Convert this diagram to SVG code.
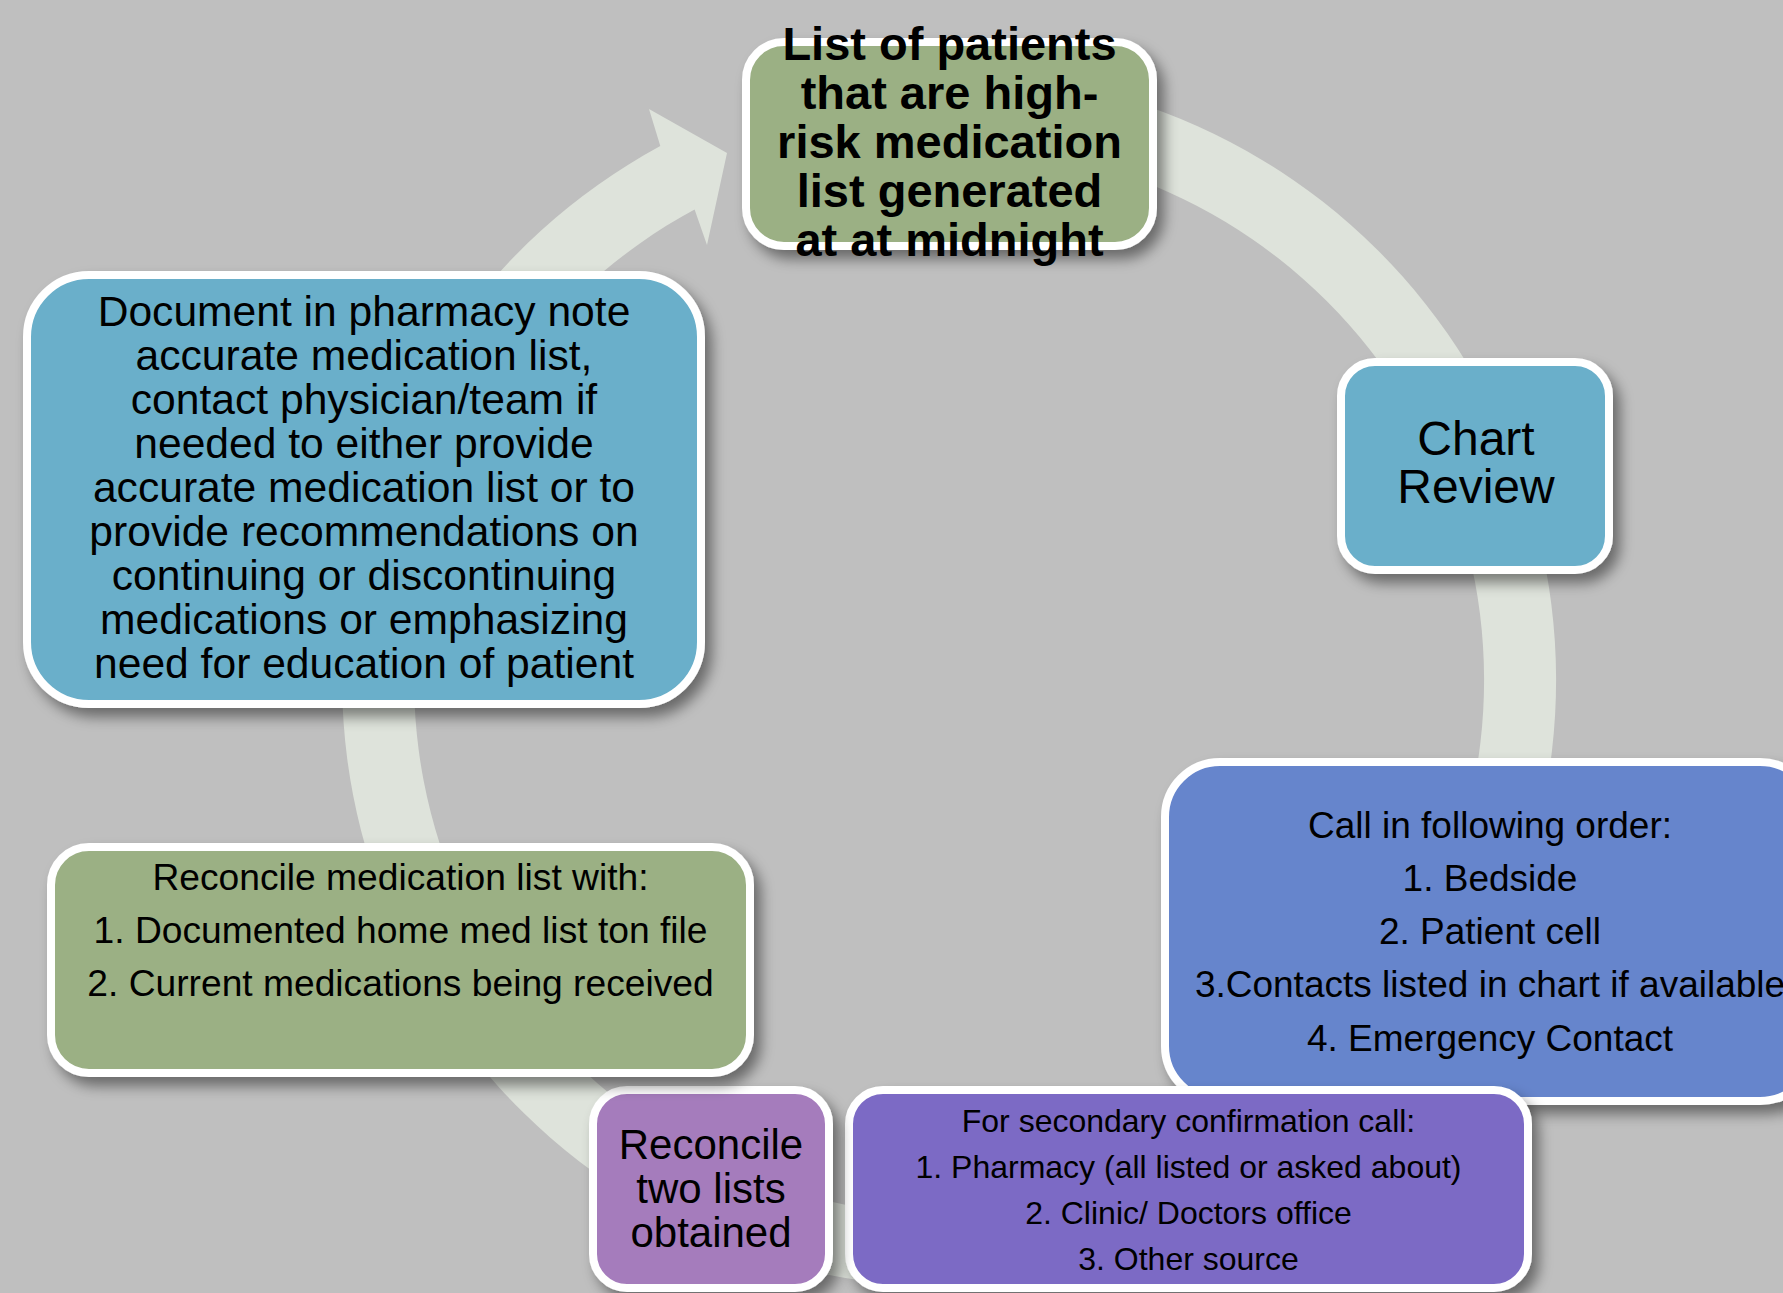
<svg xmlns="http://www.w3.org/2000/svg" width="1783" height="1293" viewBox="0 0 1783 1293">
<defs>
<filter id="sh" x="-10%" y="-10%" width="125%" height="130%">
<feDropShadow dx="7" dy="9" stdDeviation="7" flood-color="#000" flood-opacity="0.45"/>
</filter>
<style>
.box{stroke:#ffffff;stroke-width:8;filter:url(#sh)}
.t{font-family:"Liberation Sans",Arial,sans-serif;fill:#000;text-anchor:middle}
.b{font-weight:bold}
</style>
</defs>
<rect width="1783" height="1293" fill="#bfbfbf"/>
<g id="connectors">
<path d="M949,73 A607,607 0 1 1 660.3,146.1 L649,109 L727,153 L707,245 L694.6,209.4 A535,535 0 1 0 949,145 Z" fill="#dee3db"/>
</g>
<g id="node-top">
<rect class="box" x="746" y="42" width="407" height="204" rx="38" fill="#9bb084"/>
<text class="t b" font-size="47"><tspan x="949.5" y="60">List of patients</tspan><tspan x="949.5" y="109">that are high-</tspan><tspan x="949.5" y="158">risk medication</tspan><tspan x="949.5" y="207">list generated</tspan><tspan x="949.5" y="256">at at midnight</tspan></text>
</g>
<g id="node-chart">
<rect class="box" x="1341" y="362" width="268" height="208" rx="34" fill="#6aafca"/>
<text class="t" font-size="48"><tspan x="1476" y="455">Chart</tspan><tspan x="1476" y="503">Review</tspan></text>
</g>
<g id="node-call">
<rect class="box" x="1165" y="762" width="650" height="339" rx="55" fill="#6685cc"/>
<text class="t" font-size="37"><tspan x="1490" y="838">Call in following order:</tspan><tspan x="1490" y="891">1. Bedside</tspan><tspan x="1490" y="944">2. Patient cell</tspan><tspan x="1490" y="997">3.Contacts listed in chart if available</tspan><tspan x="1490" y="1051">4. Emergency Contact</tspan></text>
</g>
<g id="node-secondary">
<rect class="box" x="849" y="1090" width="679" height="198" rx="34" fill="#7c6bc5"/>
<text class="t" font-size="32"><tspan x="1188.5" y="1132">For secondary confirmation call:</tspan><tspan x="1188.5" y="1178">1. Pharmacy (all listed or asked about)</tspan><tspan x="1188.5" y="1224">2. Clinic/ Doctors office</tspan><tspan x="1188.5" y="1270">3. Other source</tspan></text>
</g>
<g id="node-reconcile-two">
<rect class="box" x="593" y="1090" width="236" height="198" rx="34" fill="#a57bbc"/>
<text class="t" font-size="42"><tspan x="711" y="1159">Reconcile</tspan><tspan x="711" y="1203">two lists</tspan><tspan x="711" y="1247">obtained</tspan></text>
</g>
<g id="node-reconcile-med">
<rect class="box" x="51" y="847" width="699" height="226" rx="38" fill="#9bb084"/>
<text class="t" font-size="37.2"><tspan x="400.5" y="890">Reconcile medication list with:</tspan><tspan x="400.5" y="943">1. Documented home med list ton file</tspan><tspan x="400.5" y="996">2. Current medications being received</tspan></text>
</g>
<g id="node-document">
<rect class="box" x="27" y="275" width="674" height="429" rx="62" fill="#6aafca"/>
<text class="t" font-size="42.6"><tspan x="364" y="326">Document in pharmacy note</tspan><tspan x="364" y="370">accurate medication list,</tspan><tspan x="364" y="414">contact physician/team if</tspan><tspan x="364" y="458">needed to either provide</tspan><tspan x="364" y="502">accurate medication list or to</tspan><tspan x="364" y="546">provide recommendations on</tspan><tspan x="364" y="590">continuing or discontinuing</tspan><tspan x="364" y="634">medications or emphasizing</tspan><tspan x="364" y="678">need for education of patient</tspan></text>
</g>
</svg>
